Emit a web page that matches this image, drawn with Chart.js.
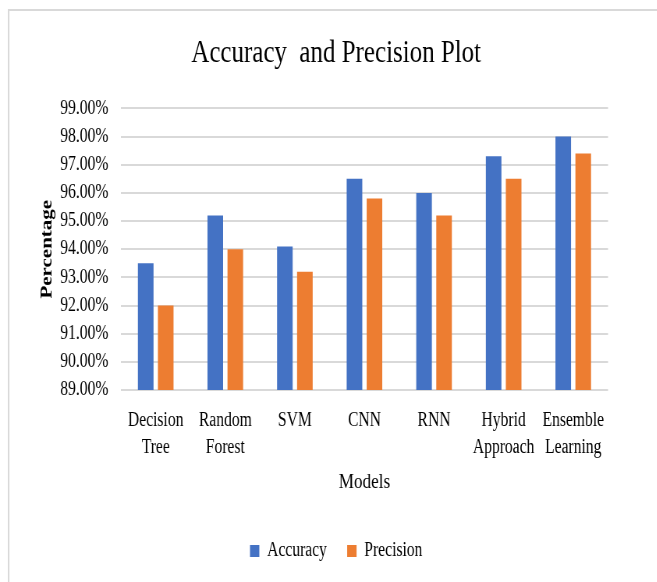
<!DOCTYPE html>
<html>
<head>
<meta charset="utf-8">
<script src="https://cdn.jsdelivr.net/npm/chart.js@4.4.0/dist/chart.umd.min.js"></script>
<style>
  html, body { margin: 0; padding: 0; background: #fff; overflow: hidden; width: 657px; height: 582px; }
  #wrap { width: 880px; height: 582px; transform: scaleX(0.78); transform-origin: 0 0; }
  canvas { display: block; }
</style>
</head>
<body>
<div id="wrap"><canvas id="c" width="880" height="582"></canvas></div>
<script>
const categories = [['Decision', 'Tree'], ['Random', 'Forest'], 'SVM', 'CNN', 'RNN', ['Hybrid', 'Approach'], ['Ensemble', 'Learning']];
const accuracy = [93.5, 95.2, 94.1, 96.5, 96.0, 97.3, 98.0];
const precision = [92.0, 94.0, 93.2, 95.8, 95.2, 96.5, 97.4];
const seriesNames = ['Accuracy', 'Precision'];
const yMin = 89, yMax = 99, yStep = 1;

const FONT = "'Liberation Serif', 'Times New Roman', serif";
const TEXT = '#000';

const frame = {
  id: 'frame',
  beforeDraw(chart) {
    const ctx = chart.ctx;
    ctx.save();
    ctx.fillStyle = '#fff';
    ctx.fillRect(0, 0, chart.width, chart.height);
    ctx.strokeStyle = '#d9d9d9';
    ctx.lineWidth = 2;
    ctx.strokeRect(11, 10, chart.width + 20, chart.height + 20);
    ctx.restore();
  }
};

new Chart(document.getElementById('c'), {
  type: 'bar',
  data: {
    labels: categories,
    datasets: [
      { label: seriesNames[0], data: accuracy, backgroundColor: '#4472C4', borderWidth: 0 },
      { label: seriesNames[1], data: precision, backgroundColor: '#ED7D31', borderWidth: 0 }
    ]
  },
  options: {
    responsive: false,
    animation: false,
    devicePixelRatio: 1,
    categoryPercentage: 0.575,
    barPercentage: 0.78,
    layout: { padding: { left: 14, right: 32, top: 12, bottom: 11 } },
    plugins: {
      title: {
        display: true,
        text: 'Accuracy  and Precision Plot',
        color: TEXT,
        font: { family: FONT, size: 32, weight: 'normal', lineHeight: 1.2 },
        padding: { top: 22, bottom: 36 }
      },
      legend: {
        position: 'bottom',
        labels: {
          color: TEXT,
          font: { family: FONT, size: 20 },
          boxWidth: 12,
          boxHeight: 12,
          padding: 26
        }
      },
      tooltip: { enabled: false }
    },
    scales: {
      x: {
        grid: { display: false, drawTicks: false },
        border: { display: false },
        ticks: {
          color: TEXT,
          font: { family: FONT, size: 20, lineHeight: 1.35 },
          padding: 17,
          maxRotation: 0,
          autoSkip: false
        },
        title: {
          display: true,
          text: 'Models',
          color: TEXT,
          font: { family: FONT, size: 22, lineHeight: 1.2 },
          padding: { top: 0, bottom: 20 }
        },
        afterFit(s) { s.height = 125; }
      },
      y: {
        min: yMin,
        max: yMax,
        grid: { color: '#d9d9d9', lineWidth: 2, drawTicks: false },
        border: { display: false },
        ticks: {
          stepSize: yStep,
          color: TEXT,
          font: { family: FONT, size: 20 },
          padding: 16,
          callback: v => v.toFixed(2) + '%'
        },
        title: {
          display: true,
          text: 'Percentage',
          color: TEXT,
          font: { family: FONT, size: 21, weight: 'bold', lineHeight: 1.2 },
          padding: { top: 34, bottom: 0 }
        },
        afterFit(s) { s.width = 141; }
      },
      y2: {
        position: 'right',
        display: true,
        grid: { display: false, drawTicks: false },
        border: { display: false },
        ticks: { display: false },
        afterFit(s) { s.width = 68.5; }
      }
    }
  },
  plugins: [frame]
});
</script>
</body>
</html>
